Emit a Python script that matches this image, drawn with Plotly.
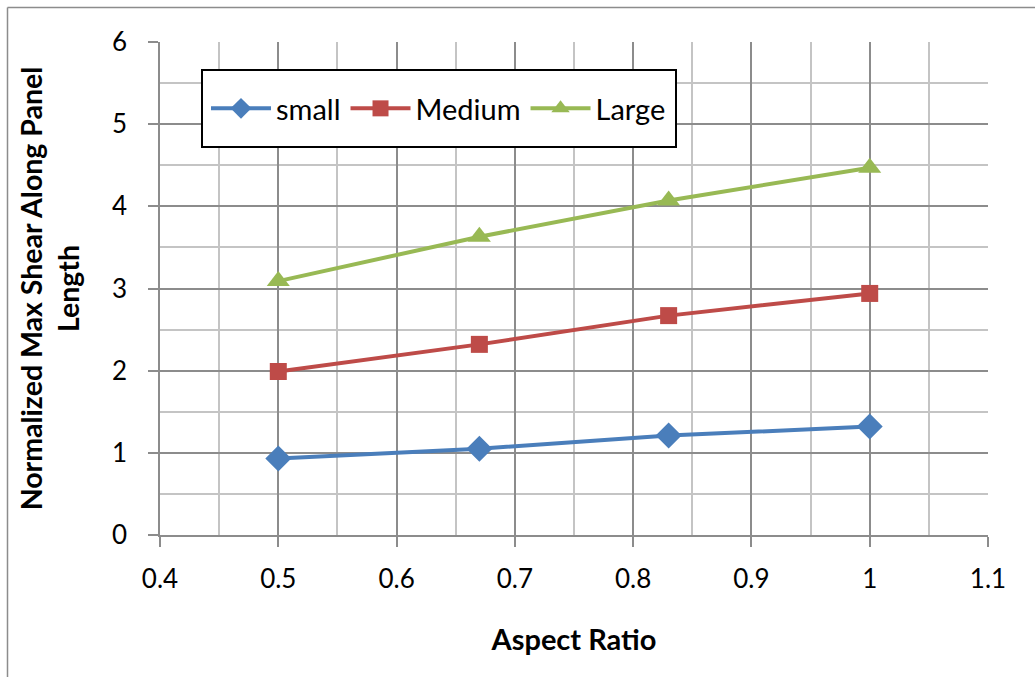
import plotly.graph_objects as go

# Aspect ratios tested and normalized max shear per panel size
aspect_ratio = [0.5, 0.67, 0.83, 1.0]
small = [0.93, 1.05, 1.21, 1.32]
medium = [1.99, 2.32, 2.67, 2.94]
large = [3.09, 3.63, 4.07, 4.47]

series = [
    ("small", small, "#4A7EBB", "diamond", 20),
    ("Medium", medium, "#BE4B48", "square", 17),
    ("Large", large, "#98B954", "triangle-up", 20),
]

FONT = "Lato, 'Open Sans', sans-serif"
MAJOR = "#8C8C8C"
MINOR = "#C4C4C4"

fig = go.Figure()
for name, vals, color, symbol, size in series:
    fig.add_trace(go.Scatter(
        x=aspect_ratio, y=vals, name=name, mode="lines+markers",
        line=dict(color=color, width=4),
        marker=dict(symbol=symbol, size=size, color=color, line=dict(width=0)),
    ))

L, R, T, B = 160, 47, 42, 142
W, H = 1035, 677
pw, ph = W - L - R, H - T - B

def px_to_paper_x(px):
    return (px - L) / pw

def px_to_paper_y(py):
    return (H - B - py) / ph

fig.update_layout(
    width=W, height=H,
    margin=dict(l=L, r=R, t=T, b=B),
    paper_bgcolor="white", plot_bgcolor="white",
    font=dict(family=FONT, size=26, color="black"),
    showlegend=True,
    legend=dict(
        orientation="h",
        x=px_to_paper_x(206), y=px_to_paper_y(108.5),
        xanchor="left", yanchor="middle",
        borderwidth=0, bgcolor="rgba(0,0,0,0)",
        font=dict(family=FONT, size=29),
        itemwidth=60,
    ),
    xaxis=dict(
        range=[0.4, 1.1], dtick=0.1, tick0=0.4,
        showgrid=True, gridcolor=MAJOR, gridwidth=1.5,
        minor=dict(dtick=0.05, showgrid=True, gridcolor=MINOR, gridwidth=1.5),
        ticks="outside", ticklen=10, tickcolor=MAJOR, tickwidth=1.5,
        showline=True, linecolor=MAJOR, linewidth=1.5,
        zeroline=False,
        ticklabelstandoff=10,
        tickfont=dict(family=FONT, size=26),
        title=dict(text="<b>Aspect Ratio</b>", font=dict(family=FONT, size=29), standoff=37),
    ),
    yaxis=dict(
        range=[0, 6], dtick=1,
        showgrid=True, gridcolor=MAJOR, gridwidth=1.5,
        minor=dict(dtick=0.5, showgrid=True, gridcolor=MINOR, gridwidth=1.5),
        ticks="outside", ticklen=10, tickcolor=MAJOR, tickwidth=1.5,
        showline=True, linecolor=MAJOR, linewidth=1.5,
        zeroline=False,
        ticklabelstandoff=16,
        tickfont=dict(family=FONT, size=26),
        title=dict(text="<b>Normalized Max Shear Along Panel<br>Length</b>",
                   font=dict(family=FONT, size=28.5), standoff=24),
    ),
    shapes=[
        # legend frame
        dict(type="rect", xref="paper", yref="paper", layer="above",
             x0=px_to_paper_x(202), x1=px_to_paper_x(676),
             y0=px_to_paper_y(70), y1=px_to_paper_y(147),
             fillcolor="white", line=dict(color="black", width=2)),
        # outer chart-area border (left and top edges visible)
        dict(type="line", xref="paper", yref="paper",
             x0=px_to_paper_x(7.5), x1=px_to_paper_x(7.5),
             y0=px_to_paper_y(7.5), y1=px_to_paper_y(H + 5),
             line=dict(color="#8C8C8C", width=1.5)),
        dict(type="line", xref="paper", yref="paper",
             x0=px_to_paper_x(7.5), x1=px_to_paper_x(W + 5),
             y0=px_to_paper_y(7.5), y1=px_to_paper_y(7.5),
             line=dict(color="#8C8C8C", width=1.5)),
    ],
)

fig.write_html("out.html")
